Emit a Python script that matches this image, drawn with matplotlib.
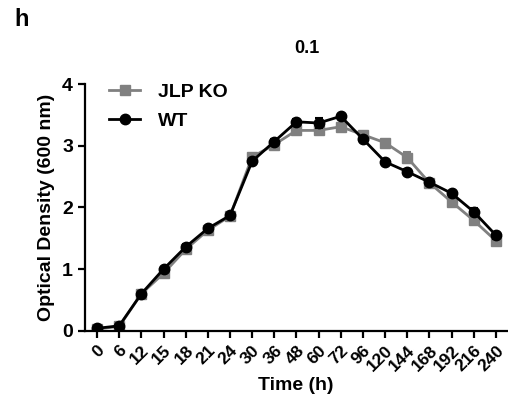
import numpy as np
import matplotlib.pyplot as plt

plt.rcParams['font.family'] = ['Liberation Sans', 'DejaVu Sans']
plt.rcParams['font.weight'] = 'bold'

# time points (h), categorical x axis
tiempos = ['0', '6', '12', '15', '18', '21', '24', '30', '36', '48', '60',
           '72', '96', '120', '144', '168', '192', '216', '240']

# optical density values
wt = [0.04, 0.08, 0.60, 1.00, 1.36, 1.66, 1.87, 2.75, 3.07, 3.39, 3.37,
      3.48, 3.11, 2.74, 2.58, 2.41, 2.23, 1.93, 1.55]
wt_err = [0.02, 0.02, 0.03, 0.03, 0.04, 0.03, 0.04, 0.04, 0.04, 0.05, 0.08,
          0.04, 0.05, 0.03, 0.04, 0.04, 0.03, 0.06, 0.06]
ko = [0.03, 0.07, 0.60, 0.93, 1.32, 1.63, 1.86, 2.82, 3.02, 3.25, 3.25,
      3.31, 3.18, 3.05, 2.81, 2.40, 2.09, 1.79, 1.46]
ko_err = [0.02, 0.02, 0.03, 0.05, 0.03, 0.03, 0.04, 0.04, 0.04, 0.05, 0.05,
          0.05, 0.05, 0.04, 0.09, 0.04, 0.04, 0.05, 0.05]

x = np.arange(len(tiempos))

fig = plt.figure(figsize=(5.08, 3.99), dpi=100)
ax = fig.add_axes([0.167, 0.171, 0.831, 0.618])

eb_ko = ax.errorbar(x, ko, yerr=ko_err, color='#808080', marker='s', markersize=7.5,
                    linewidth=2, capsize=3, elinewidth=1.5, capthick=1.5,
                    label='JLP KO', zorder=2)
eb_wt = ax.errorbar(x, wt, yerr=wt_err, color='black', marker='o', markersize=7.5,
                    linewidth=2, capsize=3, elinewidth=1.5, capthick=1.5,
                    label='WT', zorder=3)

ax.set_xlim(-0.55, len(tiempos) - 0.5)
ax.set_ylim(0, 4)
ax.set_yticks([0, 1, 2, 3, 4])
ax.set_xticks(x)
ax.set_xticklabels(tiempos, rotation=45, ha='right', rotation_mode='anchor',
                   fontsize=12.5, fontweight='bold')
for lab in ax.get_yticklabels():
    lab.set_fontsize(14)
    lab.set_fontweight('bold')

for s in ['top', 'right']:
    ax.spines[s].set_visible(False)
for s in ['left', 'bottom']:
    ax.spines[s].set_linewidth(1.6)
ax.tick_params(width=1.6, length=5)

ax.set_ylabel('Optical Density (600 nm)', fontsize=14, fontweight='bold', labelpad=5)
ax.set_xlabel('Time (h)', fontsize=14, fontweight='bold', labelpad=2)

leg = ax.legend([eb_ko[0], eb_wt[0]], ['JLP KO', 'WT'], loc='upper left',
                bbox_to_anchor=(0.025, 1.06), frameon=False,
                prop={'size': 14, 'weight': 'bold'}, handlelength=1.6,
                handletextpad=0.9, labelspacing=0.6, borderaxespad=0.3)

fig.text(0.605, 0.878, '0.1', fontsize=13, fontweight='bold', ha='center', va='center')
fig.text(0.028, 0.95, 'h', fontsize=17, fontweight='bold', ha='left', va='center')

fig.savefig('out.png', dpi=100)
